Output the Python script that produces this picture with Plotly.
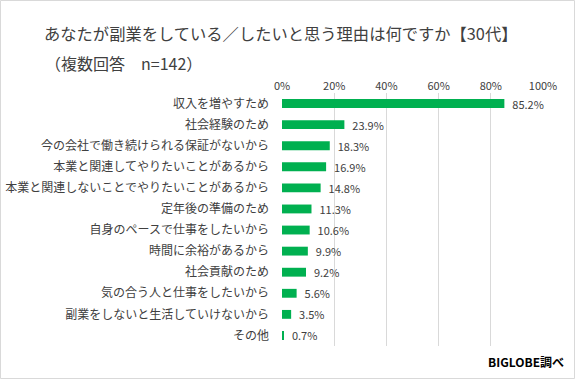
import plotly.graph_objects as go

categories = ["収入を増やすため", "社会経験のため", "今の会社で働き続けられる保証がないから",
              "本業と関連してやりたいことがあるから", "本業と関連しないことでやりたいことがあるから",
              "定年後の準備のため", "自身のペースで仕事をしたいから", "時間に余裕があるから",
              "社会貢献のため", "気の合う人と仕事をしたいから", "副業をしないと生活していけないから", "その他"]
values = [85.2, 23.9, 18.3, 16.9, 14.8, 11.3, 10.6, 9.9, 9.2, 5.6, 3.5, 0.7]
tick_vals = [0, 20, 40, 60, 80, 100]
tick_text = ["0%", "20%", "40%", "60%", "80%", "100%"]

W, H = 575, 379
L, R, T, B = 282, 32, 93, 33
FONT = "Noto Sans CJK JP"

fig = go.Figure(go.Bar(
    y=categories, x=values, orientation="h",
    marker=dict(color="#00B050", line=dict(width=0)),
    width=0.42,
    text=[f"\u00a0\u00a0{v:.1f}%" for v in values], textposition="outside",
    textfont=dict(size=11, color="#404040", family=FONT),
    constraintext="none",
    cliponaxis=False,
))

pw, ph = W - L - R, H - T - B
fig.update_layout(
    width=W, height=H,
    margin=dict(l=L, r=R, t=T, b=B, autoexpand=False),
    paper_bgcolor="white", plot_bgcolor="white",
    font=dict(family=FONT, color="#404040", size=11),
    showlegend=False,
    xaxis=dict(range=[0, 100], side="top", tickvals=tick_vals, ticktext=tick_text,
               showgrid=True, gridcolor="#D9D9D9", gridwidth=1, zeroline=False,
               showline=False, ticks="", tickfont=dict(size=11, color="#404040"),
               automargin=False, fixedrange=True),
    yaxis=dict(autorange="reversed", showgrid=False, showline=False, ticks="",
               ticklen=0, tickfont=dict(size=12, color="#404040"),
               ticklabelstandoff=12, automargin=False, fixedrange=True),
    annotations=[
        dict(text="あなたが副業をしている／したいと思う理由は何ですか【30代】",
             xref="paper", yref="paper", x=(42 - L) / pw, y=1 + (T - 33) / ph,
             xanchor="left", yanchor="middle", showarrow=False,
             font=dict(size=16.3, color="#404040")),
        dict(text="（複数回答　n=142）",
             xref="paper", yref="paper", x=(43 - L) / pw, y=1 + (T - 63) / ph,
             xanchor="left", yanchor="middle", showarrow=False,
             font=dict(size=16, color="#404040")),
        dict(text="<b>BIGLOBE調べ</b>",
             xref="paper", yref="paper", x=(566 - L) / pw, y=-(361 - (H - B)) / ph,
             xanchor="right", yanchor="middle", showarrow=False,
             font=dict(size=12, color="#000000")),
    ],
    shapes=[dict(type="rect", xref="paper", yref="paper",
                 x0=(0.5 - L) / pw, x1=(W - 0.5 - L) / pw,
                 y0=-(B - 0.5) / ph, y1=1 + (T - 0.5) / ph,
                 line=dict(color="#D9D9D9", width=1), fillcolor="rgba(0,0,0,0)", layer="below")],
)

fig.write_html("out.html", config={"displayModeBar": False},
               post_script="document.body.style.margin='0';")
